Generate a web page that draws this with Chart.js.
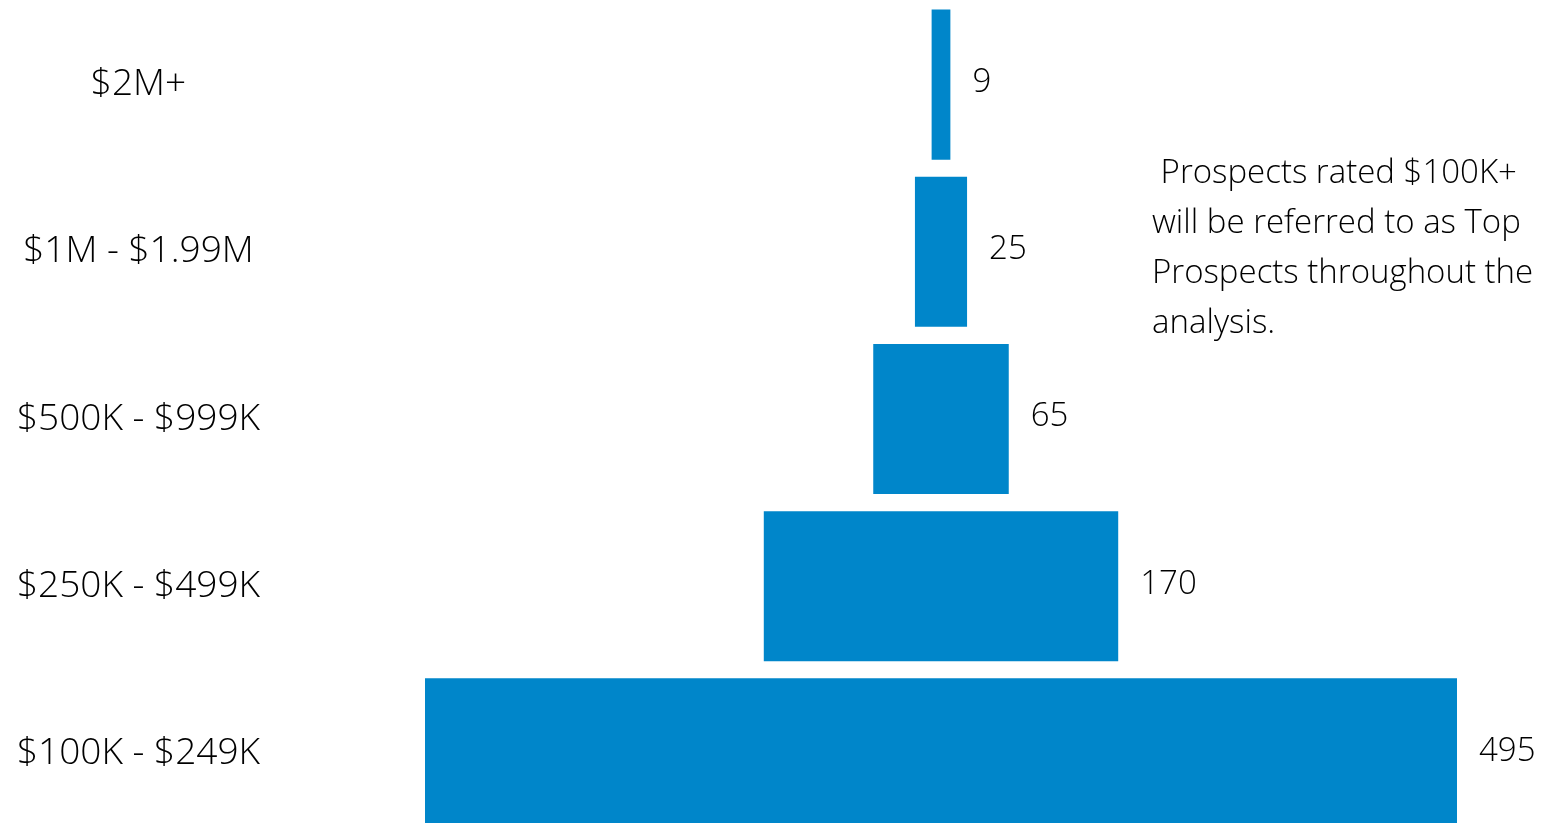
<!DOCTYPE html>
<html>
<head>
<meta charset="utf-8">
<script src="https://cdn.jsdelivr.net/npm/chart.js@4"></script>
<style>
  html, body { margin: 0; padding: 0; background: #fff; overflow: hidden; }
  #wrap { position: relative; width: 1550px; height: 837px; }
  #note {
    position: absolute; left: 1152px; top: 146px; width: 400px;
    font-family: "Open Sans", sans-serif; font-weight: 300; font-size: 33px;
    line-height: 50px; color: #000; white-space: nowrap;
  }
</style>
</head>
<body>
<div id="wrap">
  <canvas id="funnel" width="1550" height="837"></canvas>
  <div id="note">&nbsp;Prospects rated $100K+<br>will be referred to as Top<br>Prospects throughout the<br>analysis.</div>
</div>
<script>
// prospect rating bands, top of funnel first
const bands = ['$2M+', '$1M - $1.99M', '$500K - $999K', '$250K - $499K', '$100K - $249K'];
const counts = [9, 25, 65, 170, 495];
const barColor = '#0086CA';

// funnel: each bar is centred on zero
const halfSpans = counts.map(c => [-c / 2, c / 2]);
const maxHalf = Math.max(...counts) / 2;

const valueLabels = {
    id: 'valueLabels',
    afterDatasetsDraw(chart) {
        const ctx = chart.ctx;
        const meta = chart.getDatasetMeta(0);
        ctx.save();
        ctx.font = '300 33px "Open Sans", sans-serif';
        ctx.fillStyle = '#000';
        ctx.textAlign = 'left';
        ctx.textBaseline = 'middle';
        meta.data.forEach((bar, i) => {
            ctx.fillText(String(counts[i]), bar.x + 22, bar.y - 2);
        });
        ctx.restore();
    }
};

const funnelCanvas = document.getElementById('funnel');

new Chart(funnelCanvas, {
    type: 'bar',
    data: {
        labels: bands,
        datasets: [{
            data: halfSpans,
            backgroundColor: barColor,
            borderWidth: 0,
            barPercentage: 1,
            categoryPercentage: 0.898
        }]
    },
    plugins: [valueLabels],
    options: {
        indexAxis: 'y',
        responsive: false,
        maintainAspectRatio: false,
        animation: false,
        layout: { padding: { left: 0, right: 93, top: 1, bottom: 0 } },
        plugins: { legend: { display: false }, tooltip: { enabled: false } },
        scales: {
            x: { display: false, min: -maxHalf, max: maxHalf },
            y: {
                grid: { display: false, drawTicks: false },
                border: { display: false },
                afterFit(scale) {
                    scale.width = 425;
                    scale.paddingTop = 0;
                    scale.paddingBottom = 0;
                },
                ticks: {
                    crossAlign: 'center',
                    padding: 165,
                    color: '#000',
                    font: { family: '"Open Sans", sans-serif', weight: 300, size: 37 }
                }
            }
        }
    }
});
</script>
</body>
</html>
